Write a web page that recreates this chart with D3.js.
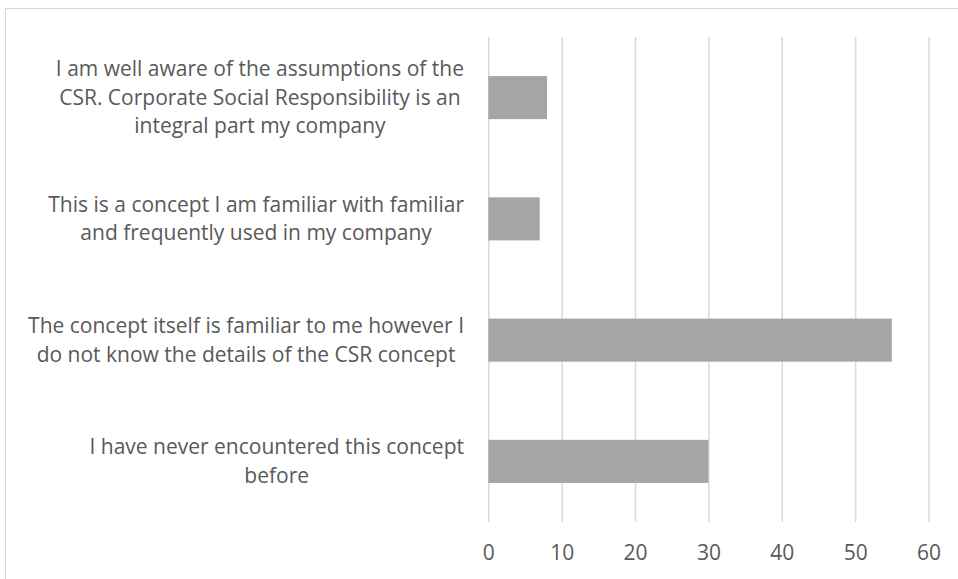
<!DOCTYPE html>
<html>
<head>
<meta charset="utf-8">
<script src="https://cdn.jsdelivr.net/npm/d3@7"></script>
<style>
  html, body { margin: 0; padding: 0; background: #fff; }
  svg { display: block; }
  text { font-family: "Open Sans", sans-serif; fill: #595959; }
</style>
</head>
<body>
<svg id="chart" width="958" height="579"></svg>
<script>
// Survey answers, listed top to bottom, each split into its wrapped lines
const categories = [
  "I am well aware of the assumptions of the CSR. Corporate Social Responsibility is an integral part my company",
  "This is a concept I am familiar with familiar and frequently used in my company",
  "The concept itself is familiar to me however I do not know the details of the CSR concept",
  "I have never encountered this concept before"
];
const categoryLines = [
  ["I am well aware of the assumptions of the", "CSR. Corporate Social Responsibility is an", "integral part my company"],
  ["This is a concept I am familiar with familiar", "and frequently used in my company"],
  ["The concept itself is familiar to me however I", "do not know the details of the CSR concept"],
  ["I have never encountered this concept", "before"]
];
const values = [8, 7, 55, 30];
const tickValues = [0, 10, 20, 30, 40, 50, 60];

const svg = d3.select("#chart");
const W = 958, H = 579;
const plot = { left: 488.3, right: 928.5, top: 37, bottom: 522 };
const fontSize = 21;
const lineGap = 28.5;

// Outer chart frame
svg.append("rect")
  .attr("x", 5.5).attr("y", 8.5)
  .attr("width", W + 10).attr("height", H + 10)
  .attr("fill", "none").attr("stroke", "#d9d9d9").attr("stroke-width", 1);

const x = d3.scaleLinear().domain([0, 60]).range([plot.left, plot.right]);
const y = d3.scaleBand().domain(categories)
  .range([plot.top, plot.bottom])
  .paddingInner(0.645).paddingOuter(0.3225);

// Vertical gridlines and value labels
const xAxis = d3.axisBottom(x)
  .tickValues(tickValues)
  .tickSize(-(plot.bottom - plot.top))
  .tickPadding(23)
  .tickFormat(d3.format("d"));

const gx = svg.append("g")
  .attr("transform", `translate(0,${plot.bottom})`)
  .call(xAxis);
gx.select(".domain").remove();
gx.selectAll(".tick line").attr("stroke", "#d9d9d9").attr("stroke-width", 1.5);
gx.selectAll(".tick text")
  .attr("fill", "#595959")
  .style("font-size", fontSize + "px")
  .style("font-family", "'Open Sans', sans-serif");

// Bars
svg.append("g").selectAll("rect")
  .data(values)
  .join("rect")
  .attr("x", x(0))
  .attr("y", (d, i) => y(categories[i]))
  .attr("width", d => x(d) - x(0))
  .attr("height", y.bandwidth())
  .attr("fill", "#a5a5a5");

// Category labels: each block right-aligned to the axis, lines centred inside it
const labelRight = 464;
const labels = svg.append("g");
categories.forEach((cat, i) => {
  const lines = categoryLines[i];
  const g = labels.append("g");
  const cy = y(cat) + y.bandwidth() / 2;
  const firstBaseline = cy - (lines.length - 1) * lineGap / 2 + fontSize * 0.34;
  const texts = g.selectAll("text")
    .data(lines)
    .join("text")
    .attr("y", (d, j) => firstBaseline + j * lineGap)
    .attr("text-anchor", "middle")
    .style("font-size", fontSize + "px")
    .text(d => d);
  let maxW = 0;
  texts.each(function () { maxW = Math.max(maxW, this.getComputedTextLength()); });
  texts.attr("x", labelRight - maxW / 2);
});
</script>
</body>
</html>
